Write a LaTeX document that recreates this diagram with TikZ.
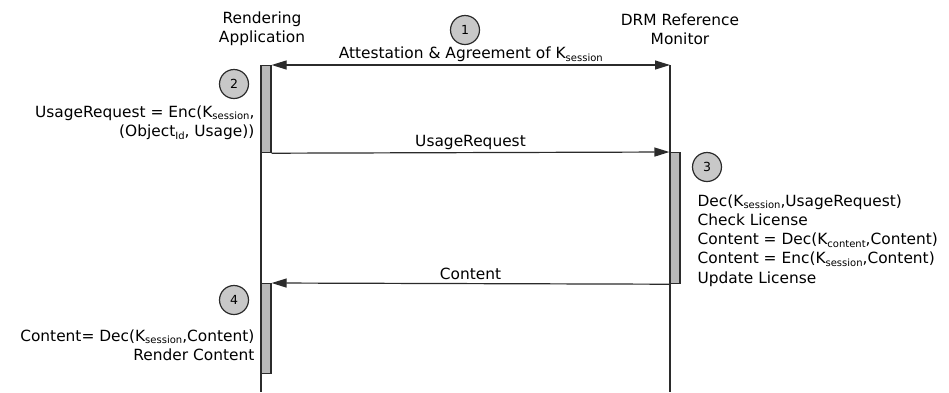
\documentclass[tikz,border=0pt]{standalone}
\usepackage{fontspec}
\setmainfont{DejaVu Sans}
\usetikzlibrary{arrows.meta,positioning}

\definecolor{linegray}{HTML}{2B2B2B}
\definecolor{barfill}{HTML}{B8B8B8}
\definecolor{stepfill}{HTML}{C8C8C8}

% small lowered index, e.g. K_session
\newcommand{\idx}[1]{\raisebox{-0.3ex}{\fontsize{10}{10}\selectfont #1}}

\begin{document}
\begin{tikzpicture}[x=1pt,y=-1pt,font=\fontsize{15.4}{19.2}\selectfont,
  line width=1.2pt,draw=linegray,
  actbar/.style={draw=linegray,fill=barfill,minimum width=10pt,inner sep=0pt,anchor=north},
  stepmark/.style={circle,draw=linegray,fill=stepfill,minimum size=29pt,inner sep=0pt,font=\fontsize{12.5}{12.5}\selectfont},
  msg/.style={-{Triangle[length=15pt,width=9pt]}},
  note/.style={inner sep=0pt,text depth=0pt}]
\useasboundingbox (0,0) rectangle (949,392);

% participants
\node[align=center] (app) at (262,29) {Rendering\\Application};
\node[align=center] (drm) at (680,29) {DRM Reference\\Monitor};

% lifelines
\coordinate (appTop) at (261,65);
\coordinate (appEnd) at (261,392);
\coordinate (drmTop) at (670,65);
\coordinate (drmEnd) at (670,392);
\draw (appTop) -- (appEnd);
\draw (drmTop) -- (drmEnd);

% activation bars
\node[actbar,minimum height=87pt]  (act2) at (266,65) {};
\node[actbar,minimum height=131pt] (act3) at (675,152) {};
\node[actbar,minimum height=90pt]  (act4) at (266,283) {};

% messages
\draw[{Triangle[length=15pt,width=9pt]}-{Triangle[length=15pt,width=9pt]}] (act2.north east) -- (drmTop)
  node[midway,above=-1pt] {Attestation \& Agreement of K\idx{session}};
\draw[msg] (act2.south east) -- (act3.north west)
  node[midway,above=-1pt] {UsageRequest};
\draw[msg] (act3.south west) -- (act4.north east)
  node[midway,above=0pt] {Content};

% step markers
\node[stepmark] (s1) at (465,30) {1};
\node[stepmark] (s2) at (234,84) {2};
\node[stepmark] (s3) at (707,167) {3};
\node[stepmark] (s4) at (234,300) {4};

% step notes
\node[note,align=right,anchor=north east] (n2) at (255,105)
  {UsageRequest = Enc(K\idx{session},\\(Object\idx{Id}, Usage))};
\node[note,align=left,anchor=north west] (n3) at (697,194)
  {Dec(K\idx{session},UsageRequest)\\Check License\\
   Content = Dec(K\idx{content},Content)\\
   Content = Enc(K\idx{session},Content)\\Update License};
\node[note,align=right,anchor=north east] (n4) at (255,329)
  {Content= Dec(K\idx{session},Content)\\Render Content};
\end{tikzpicture}
\end{document}
